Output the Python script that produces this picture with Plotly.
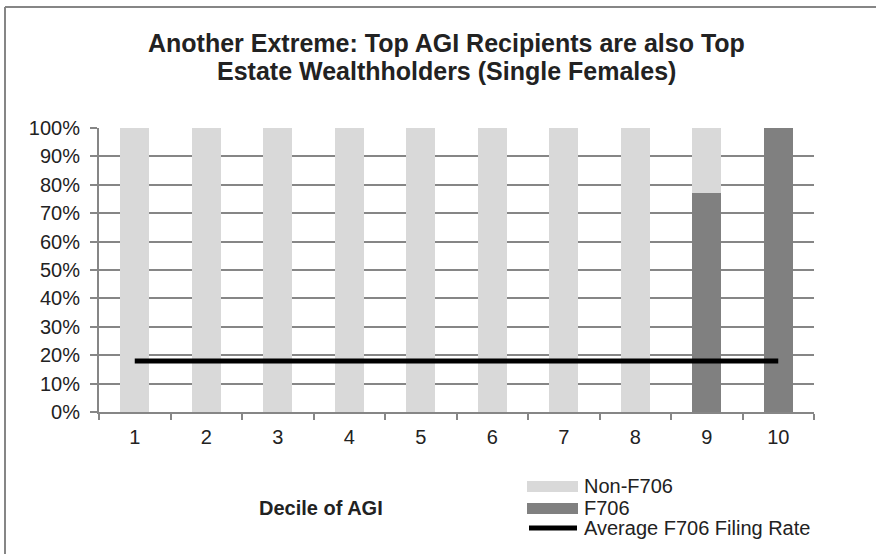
import plotly.graph_objects as go

# ---- data ----
deciles = [1, 2, 3, 4, 5, 6, 7, 8, 9, 10]
decile_labels = ["1", "2", "3", "4", "5", "6", "7", "8", "9", "10"]
f706 = [0, 0, 0, 0, 0, 0, 0, 0, 77, 100]
non_f706 = [100, 100, 100, 100, 100, 100, 100, 100, 23, 0]
avg_rate = [18, 18, 18, 18, 18, 18, 18, 18, 18, 18]
y_ticks = [0, 10, 20, 30, 40, 50, 60, 70, 80, 90, 100]
y_tick_labels = ["0%", "10%", "20%", "30%", "40%", "50%", "60%", "70%", "80%", "90%", "100%"]

W, H = 876, 554
L, R, T, B = 99, 62, 128, 142
PW, PH = W - L - R, H - T - B

def px(x):
    return (x - L) / PW

def py(y):
    return (H - B - y) / PH

FONT = "Liberation Sans, Arial, sans-serif"
GRID = "#868686"
LIGHT = "#d9d9d9"
DARK = "#808080"

fig = go.Figure()
fig.add_trace(go.Bar(x=deciles, y=f706, name="F706", marker_color=DARK,
                     marker_line_width=0, width=0.4))
fig.add_trace(go.Bar(x=deciles, y=non_f706, name="Non-F706", marker_color=LIGHT,
                     marker_line_width=0, width=0.4))
fig.add_trace(go.Scatter(x=deciles, y=avg_rate, mode="lines", name="Average F706 Filing Rate",
                         line=dict(color="black", width=5)))

shapes = []
# chart border (top and left)
shapes.append(dict(type="line", xref="paper", yref="paper", x0=px(5), x1=px(880), y0=py(7), y1=py(7),
                   line=dict(color=GRID, width=2)))
shapes.append(dict(type="line", xref="paper", yref="paper", x0=px(5), x1=px(5), y0=py(7), y1=py(560),
                   line=dict(color=GRID, width=2)))
# legend swatches
shapes.append(dict(type="rect", xref="paper", yref="paper", x0=px(527), x1=px(578), y0=py(481), y1=py(492),
                   fillcolor=LIGHT, line=dict(width=0)))
shapes.append(dict(type="rect", xref="paper", yref="paper", x0=px(527), x1=px(578), y0=py(503), y1=py(514),
                   fillcolor=DARK, line=dict(width=0)))
shapes.append(dict(type="line", xref="paper", yref="paper", x0=px(529), x1=px(577), y0=py(528), y1=py(528),
                   line=dict(color="black", width=5)))

annotations = []
for txt, yy in [("Non-F706", 486), ("F706", 508), ("Average F706 Filing Rate", 528)]:
    annotations.append(dict(text=txt, xref="paper", yref="paper", x=px(582), y=py(yy),
                            xanchor="left", yanchor="middle", showarrow=False,
                            font=dict(family=FONT, size=20, color="#222222")))
annotations.append(dict(text="<b>Decile of AGI</b>", xref="paper", yref="paper", x=px(321), y=py(508),
                        xanchor="center", yanchor="middle", showarrow=False,
                        font=dict(family=FONT, size=20, color="#222222")))
for txt, yy in [("<b>Another Extreme: Top AGI Recipients are also Top</b>", 43),
                ("<b>Estate Wealthholders (Single Females)</b>", 71)]:
    annotations.append(dict(text=txt, xref="paper", yref="paper", x=px(446), y=py(yy),
                            xanchor="center", yanchor="middle", showarrow=False,
                            font=dict(family=FONT, size=25, color="#222222")))

fig.update_layout(
    width=W, height=H,
    margin=dict(l=L, r=R, t=T, b=B, pad=0),
    barmode="stack",
    showlegend=False,
    plot_bgcolor="white", paper_bgcolor="white",
    font=dict(family=FONT, size=20, color="#222222"),
    shapes=shapes, annotations=annotations,
    xaxis=dict(range=[0.5, 10.5], tickvals=deciles, ticktext=decile_labels,
               ticks="outside", ticklen=6, tickcolor="rgba(0,0,0,0)",
               showgrid=False, zeroline=False, showline=True, linecolor=GRID, linewidth=2,
               minor=dict(tickvals=[i + 0.5 for i in range(0, 11)], ticks="outside",
                          ticklen=6, tickcolor=GRID, tickwidth=2, showgrid=False),
               tickfont=dict(size=20)),
    yaxis=dict(range=[0, 100], tickvals=y_ticks, ticktext=y_tick_labels,
               ticks="outside", ticklen=7, tickcolor=GRID, tickwidth=2,
               showgrid=True, gridcolor=GRID, gridwidth=2, zeroline=False,
               showline=True, linecolor=GRID, linewidth=2,
               tickfont=dict(size=20), ticklabelstandoff=6),
)

fig.write_html("out.html", config={"displayModeBar": False},
               post_script="document.body.style.margin='0';document.body.style.overflow='hidden';")
